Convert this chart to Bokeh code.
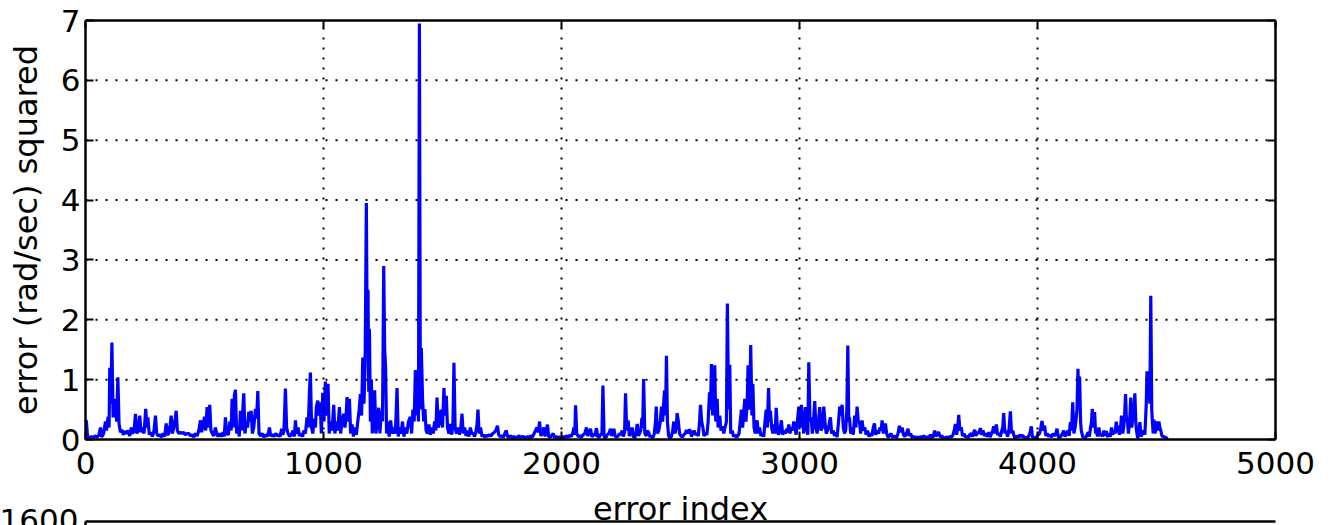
from bokeh.plotting import figure
from bokeh.models import FixedTicker, LinearAxis, Range1d, Label
from bokeh.embed import file_html
from bokeh.resources import INLINE

# (error index, error squared), in segments
seg_0_840 = [(0,0.32),(4,0.3),(9,0.02),(16,0.03),(24,0.05),(32,0.03),(40,0.06),(48,0.04),(56,0.07),(63,0.2),(68,0.04),(76,0.1),(84,0.3),(88,0.15),(95,0.38),(99,0.2),(102,1.2),(106,0.6),(111,1.62),(116,0.37),(121,0.55),(126,0.68),(131,0.3),(136,1.04),(141,0.26),(147,0.12),(153,0.16),(159,0.08),(165,0.14),(172,0.1),(179,0.15),(186,0.06),(192,0.2),(198,0.1),(204,0.15),(210,0.43),(215,0.1),(221,0.15),(228,0.4),(233,0.12),(239,0.2),(246,0.1),(253,0.51),(258,0.2),(262,0.37),(268,0.08),(274,0.12),(281,0.05),(288,0.15),(294,0.4),(299,0.1),(305,0.06),(312,0.08),(319,0.04),(326,0.1),(333,0.05),(339,0.27),(344,0.08),(350,0.1),(356,0.25),(360,0.4),(365,0.1),(371,0.2),(377,0.35),(381,0.48),(386,0.15),(392,0.1),(399,0.12),(406,0.1),(413,0.12),(420,0.08),(427,0.1),(434,0.1),(441,0.06),(448,0.08),(455,0.04),(462,0.1),(469,0.06),(476,0.15),(483,0.32),(488,0.12),(494,0.25),(500,0.38),(505,0.15),(511,0.54),(516,0.2),(522,0.58),(527,0.15),(533,0.1),(539,0.06),(546,0.2),(551,0.1),(557,0.05),(564,0.1),(571,0.05),(578,0.12),(583,0.05),(588,0.37),(593,0.1),(600,0.08),(607,0.3),(612,0.15),(616,0.68),(621,0.2),(626,0.75),(630,0.83),(635,0.1),(641,0.2),(646,0.05),(651,0.48),(656,0.15),(661,0.5),(665,0.77),(670,0.1),(676,0.3),(681,0.2),(686,0.46),(691,0.3),(696,0.48),(701,0.1),(707,0.2),(714,0.51),(719,0.35),(724,0.81),(729,0.1),(735,0.06),(742,0.1),(749,0.04),(756,0.08),(763,0.05),(769,0.12),(773,0.2),(778,0.06),(785,0.08),(792,0.05),(799,0.1),(806,0.06),(813,0.08),(818,0.05),(824,0.18),(829,0.08),(834,0.15)]

seg_840_1680 = [(840,0.85),(845,0.2),(851,0.1),(858,0.05),(865,0.08),(872,0.15),(878,0.05),(882,0.32),(887,0.1),(893,0.2),(899,0.06),(905,0.1),(912,0.05),(918,0.15),(924,0.1),(931,0.37),(936,0.2),(941,0.8),(945,1.12),(950,0.2),(955,0.1),(961,0.35),(966,0.2),(970,0.54),(976,0.65),(981,0.4),(986,0.62),(991,0.1),(997,0.78),(1002,0.3),(1008,0.97),(1013,0.4),(1019,0.93),(1024,0.1),(1030,0.3),(1036,0.15),(1043,0.58),(1048,0.1),(1054,0.3),(1060,0.15),(1067,0.54),(1072,0.1),(1078,0.3),(1085,0.43),(1090,0.2),(1095,0.4),(1099,0.71),(1104,0.3),(1109,0.68),(1114,0.1),(1120,0.25),(1126,0.05),(1132,0.2),(1138,0.08),(1144,0.3),(1150,0.5),(1155,0.76),(1160,0.4),(1165,1.37),(1170,0.6),(1175,1.3),(1180,3.95),(1184,1.5),(1187,2.5),(1190,0.8),(1193,1.85),(1197,0.3),(1201,1.0),(1205,0.1),(1210,0.4),(1215,0.82),(1220,0.1),(1226,0.3),(1232,0.53),(1237,0.1),(1243,0.48),(1248,0.3),(1253,2.9),(1257,1.5),(1261,1.2),(1265,0.1),(1270,0.3),(1276,0.05),(1282,0.32),(1288,0.1),(1294,0.2),(1300,0.1),(1304,0.3),(1309,0.86),(1314,0.05),(1320,0.2),(1326,0.1),(1332,0.3),(1338,0.05),(1344,0.2),(1350,0.1),(1357,0.3),(1365,0.38),(1370,0.1),(1376,0.5),(1381,0.3),(1386,1.16),(1391,0.4),(1395,0.9),(1399,0.3),(1403,6.95),(1407,0.5),(1411,1.53),(1416,0.7),(1421,0.3),(1426,0.51),(1431,0.15),(1437,0.1),(1443,0.25),(1449,0.08),(1455,0.2),(1461,0.1),(1467,0.3),(1472,0.15),(1477,0.7),(1482,0.2),(1488,0.3),(1494,0.5),(1500,0.2),(1506,0.86),(1511,0.4),(1516,0.73),(1521,0.2),(1527,0.1),(1533,0.26),(1539,0.08),(1544,0.3),(1548,1.28),(1553,0.2),(1559,0.1),(1565,0.2),(1571,0.08),(1577,0.2),(1582,0.43),(1587,0.1),(1593,0.2),(1599,0.06),(1605,0.15),(1611,0.05),(1617,0.2),(1623,0.1),(1629,0.1),(1635,0.05),(1641,0.15),(1645,0.25),(1649,0.5),(1654,0.1),(1660,0.2),(1666,0.05),(1672,0.08),(1678,0.04)]

seg_1680_2520 = [(1684,0.07),(1690,0.05),(1697,0.08),(1704,0.06),(1711,0.1),(1718,0.12),(1724,0.15),(1731,0.23),(1736,0.08),(1742,0.05),(1749,0.06),(1756,0.04),(1762,0.1),(1768,0.15),(1773,0.05),(1780,0.04),(1787,0.06),(1794,0.03),(1801,0.05),(1808,0.03),(1815,0.04),(1822,0.06),(1829,0.03),(1836,0.05),(1843,0.04),(1850,0.03),(1857,0.05),(1864,0.03),(1871,0.06),(1878,0.04),(1885,0.1),(1891,0.15),(1897,0.2),(1903,0.12),(1908,0.3),(1913,0.06),(1919,0.1),(1926,0.2),(1931,0.05),(1936,0.15),(1941,0.25),(1946,0.05),(1952,0.04),(1958,0.06),(1965,0.1),(1971,0.03),(1978,0.05),(1985,0.03),(1992,0.04),(1999,0.03),(2006,0.05),(2013,0.03),(2020,0.06),(2027,0.04),(2034,0.07),(2041,0.05),(2047,0.1),(2052,0.2),(2056,0.08),(2059,0.57),(2064,0.1),(2070,0.05),(2077,0.06),(2084,0.04),(2091,0.08),(2098,0.1),(2105,0.2),(2110,0.06),(2116,0.1),(2122,0.18),(2128,0.04),(2134,0.1),(2140,0.06),(2147,0.19),(2152,0.05),(2158,0.04),(2164,0.08),(2170,0.1),(2174,0.9),(2179,0.05),(2186,0.03),(2193,0.08),(2199,0.1),(2206,0.18),(2211,0.06),(2216,0.1),(2220,0.18),(2226,0.05),(2232,0.04),(2238,0.06),(2244,0.1),(2250,0.08),(2255,0.15),(2260,0.05),(2265,0.12),(2269,0.77),(2274,0.15),(2280,0.32),(2285,0.06),(2291,0.1),(2297,0.2),(2302,0.05),(2308,0.03),(2313,0.1),(2318,0.26),(2323,0.06),(2328,0.1),(2333,0.15),(2338,0.36),(2341,0.2),(2345,1.01),(2350,0.1),(2356,0.06),(2361,0.15),(2366,0.12),(2372,0.04),(2378,0.06),(2384,0.03),(2390,0.1),(2395,0.3),(2398,0.55),(2403,0.1),(2409,0.15),(2415,0.3),(2420,0.55),(2425,0.3),(2429,0.6),(2433,0.82),(2437,0.4),(2441,1.4),(2445,0.3),(2450,0.06),(2456,0.03),(2462,0.05),(2467,0.15),(2472,0.3),(2477,0.1),(2482,0.2),(2486,0.44),(2491,0.3),(2496,0.1),(2502,0.06),(2508,0.04),(2514,0.08),(2520,0.1)]

seg_2520_3360 = [(2525,0.16),(2530,0.1),(2535,0.15),(2540,0.16),(2546,0.05),(2552,0.1),(2557,0.15),(2563,0.08),(2569,0.1),(2575,0.06),(2580,0.3),(2584,0.58),(2589,0.3),(2594,0.2),(2599,0.06),(2605,0.1),(2611,0.08),(2616,0.3),(2622,0.79),(2626,0.5),(2630,1.26),(2635,0.4),(2639,0.9),(2644,1.24),(2648,0.3),(2654,0.68),(2658,0.2),(2665,0.4),(2670,0.15),(2676,0.22),(2682,0.1),(2687,0.2),(2693,0.3),(2697,2.27),(2702,0.5),(2707,1.25),(2711,0.1),(2717,0.15),(2723,0.05),(2729,0.08),(2735,0.04),(2741,0.06),(2746,0.1),(2751,0.3),(2756,0.5),(2761,0.2),(2766,0.45),(2770,0.68),(2775,0.3),(2780,0.6),(2784,1.24),(2788,0.5),(2792,0.8),(2795,1.58),(2800,0.4),(2804,0.93),(2809,0.2),(2814,0.1),(2818,0.25),(2822,0.32),(2827,0.1),(2832,0.2),(2838,0.06),(2844,0.1),(2850,0.05),(2855,0.3),(2860,0.5),(2865,0.2),(2870,0.86),(2874,0.3),(2878,0.48),(2883,0.2),(2888,0.1),(2893,0.25),(2898,0.1),(2902,0.53),(2907,0.2),(2912,0.08),(2918,0.15),(2924,0.32),(2929,0.08),(2935,0.15),(2941,0.1),(2947,0.18),(2951,0.12),(2955,0.25),(2960,0.1),(2965,0.2),(2970,0.15),(2976,0.3),(2981,0.2),(2986,0.08),(2991,0.3),(2997,0.55),(3002,0.2),(3008,0.58),(3013,0.3),(3018,0.1),(3025,0.54),(3030,0.2),(3035,0.08),(3039,1.29),(3044,0.3),(3049,0.37),(3054,0.1),(3059,0.3),(3064,0.64),(3069,0.2),(3074,0.1),(3080,0.3),(3085,0.54),(3090,0.15),(3096,0.2),(3102,0.55),(3107,0.3),(3112,0.1),(3118,0.15),(3124,0.25),(3130,0.37),(3135,0.1),(3141,0.15),(3147,0.06),(3153,0.12),(3158,0.04),(3164,0.3),(3169,0.55),(3174,0.4),(3179,0.58),(3184,0.2),(3189,0.1),(3194,0.15),(3199,0.5),(3203,1.57),(3207,0.3),(3210,0.37),(3215,0.1),(3221,0.2),(3226,0.08),(3232,0.4),(3237,0.2),(3242,0.55),(3247,0.3),(3252,0.29),(3257,0.1),(3263,0.32),(3268,0.15),(3274,0.2),(3280,0.08),(3286,0.15),(3292,0.05),(3298,0.1),(3304,0.06),(3310,0.2),(3315,0.27),(3320,0.08),(3326,0.15),(3332,0.1),(3338,0.2),(3343,0.15),(3347,0.32),(3352,0.1),(3357,0.2)]

seg_3360_4200 = [(3361,0.27),(3366,0.1),(3372,0.04),(3378,0.06),(3384,0.1),(3390,0.05),(3396,0.04),(3402,0.06),(3408,0.03),(3414,0.1),(3420,0.23),(3425,0.12),(3431,0.2),(3437,0.08),(3443,0.05),(3449,0.1),(3456,0.18),(3461,0.06),(3467,0.1),(3473,0.03),(3480,0.05),(3487,0.03),(3494,0.04),(3501,0.02),(3508,0.05),(3515,0.03),(3522,0.06),(3529,0.03),(3536,0.04),(3543,0.03),(3550,0.08),(3556,0.03),(3562,0.05),(3568,0.15),(3573,0.05),(3579,0.1),(3585,0.12),(3591,0.04),(3597,0.06),(3604,0.03),(3611,0.02),(3618,0.04),(3625,0.03),(3632,0.05),(3639,0.04),(3645,0.08),(3650,0.15),(3655,0.26),(3660,0.08),(3665,0.2),(3669,0.41),(3674,0.15),(3680,0.2),(3685,0.06),(3691,0.1),(3697,0.04),(3703,0.06),(3709,0.03),(3715,0.08),(3721,0.1),(3727,0.05),(3732,0.12),(3736,0.16),(3741,0.06),(3747,0.12),(3753,0.1),(3760,0.19),(3765,0.08),(3771,0.15),(3777,0.06),(3783,0.1),(3789,0.05),(3795,0.12),(3801,0.04),(3807,0.1),(3812,0.15),(3816,0.22),(3821,0.1),(3827,0.25),(3832,0.08),(3838,0.1),(3844,0.05),(3850,0.15),(3854,0.2),(3858,0.44),(3863,0.1),(3868,0.15),(3874,0.05),(3880,0.15),(3886,0.47),(3891,0.1),(3896,0.15),(3902,0.05),(3908,0.03),(3914,0.06),(3920,0.04),(3926,0.08),(3932,0.05),(3938,0.07),(3944,0.03),(3950,0.04),(3956,0.02),(3962,0.05),(3968,0.1),(3974,0.22),(3979,0.03),(3985,0.04),(3991,0.02),(3997,0.05),(4003,0.08),(4009,0.1),(4014,0.2),(4019,0.31),(4024,0.15),(4030,0.23),(4035,0.06),(4041,0.1),(4047,0.05),(4053,0.08),(4059,0.04),(4065,0.1),(4071,0.06),(4077,0.1),(4082,0.18),(4087,0.05),(4093,0.03),(4099,0.06),(4105,0.1),(4110,0.15),(4115,0.05),(4121,0.1),(4128,0.15),(4133,0.06),(4138,0.29),(4143,0.15),(4148,0.62),(4153,0.1),(4158,0.2),(4162,0.33),(4166,0.5),(4170,1.18),(4174,0.6),(4177,1.05),(4181,0.3),(4184,0.15),(4190,0.05),(4196,0.03)]

seg_4200_4546 = [(4202,0.03),(4208,0.08),(4213,0.12),(4218,0.05),(4223,0.2),(4227,0.3),(4230,0.51),(4235,0.2),(4240,0.46),(4244,0.1),(4247,0.15),(4252,0.05),(4258,0.2),(4263,0.06),(4268,0.1),(4273,0.05),(4279,0.15),(4284,0.06),(4289,0.14),(4295,0.04),(4300,0.1),(4306,0.05),(4311,0.2),(4316,0.08),(4321,0.15),(4326,0.1),(4331,0.3),(4335,0.12),(4339,0.23),(4344,0.08),(4349,0.2),(4353,0.4),(4358,0.1),(4362,0.2),(4366,0.4),(4370,0.76),(4374,0.3),(4377,0.37),(4382,0.1),(4387,0.3),(4392,0.7),(4396,0.2),(4401,0.37),(4405,0.5),(4409,0.77),(4413,0.3),(4416,0.15),(4421,0.02),(4426,0.1),(4430,0.29),(4435,0.05),(4441,0.1),(4447,0.15),(4451,0.08),(4454,0.32),(4457,0.6),(4460,1.14),(4464,0.9),(4468,1.0),(4472,0.6),(4476,2.4),(4480,0.5),(4482,0.35),(4486,0.1),(4489,0.33),(4494,0.1),(4498,0.2),(4503,0.3),(4507,0.15),(4510,0.3),(4514,0.2),(4518,0.15),(4523,0.06),(4527,0.05),(4534,0.04),(4541,0.03),(4546,0.0)]

x_ticks = [0, 1000, 2000, 3000, 4000, 5000]
y_ticks = [0, 1, 2, 3, 4, 5, 6, 7]
x_label = "error index"
y_label = "error (rad/sec) squared"
lower_panel_top_label = "1600"      # top tick label of the (cut off) panel below
lower_panel_top_y = -1.37           # where that panel's top edge sits in this panel's units

segments = [seg_0_840, seg_840_1680, seg_1680_2520, seg_2520_3360, seg_3360_4200, seg_4200_4546]
xs = [pt[0] for seg in segments for pt in seg]
ys = [pt[1] for seg in segments for pt in seg]

FONT = "DejaVu Sans"
TICK_FS = "31px"
LABEL_FS = "32px"

W, H = 1331, 525
# axes box in page pixels: left 85, right 1275, top 20, bottom 439
px_x = 5000 / 1190.0
px_y = 7 / 419.0
x_range = Range1d(-85 * px_x, 5000 + (W - 1275) * px_x)
y_range = Range1d(-(H - 439) * px_y, 7 + 20 * px_y)

p = figure(width=W, height=H, output_backend="svg", toolbar_location=None,
           x_range=x_range, y_range=y_range, min_border=0)
p.title.visible = False
p.outline_line_color = None
p.background_fill_color = "white"
p.border_fill_color = "white"
p.xgrid.visible = False
p.ygrid.visible = False

p.line(xs, ys, line_color="#0000ff", line_width=3.2)

# dotted grid inside the axes box, drawn over the data as in the reference
gx = x_ticks[1:-1]
p.segment(x0=gx, y0=[y_ticks[0]] * len(gx), x1=gx, y1=[y_ticks[-1]] * len(gx),
          line_color="black", line_width=2, line_dash="2 8")
gy = y_ticks[1:-1]
p.segment(x0=[x_ticks[0]] * len(gy), y0=gy, x1=[x_ticks[-1]] * len(gy), y1=gy,
          line_color="black", line_width=2, line_dash="2 8")


def style(ax, ticks=None, show_labels=True):
    ax.axis_line_color = "black"
    ax.axis_line_width = 2.5
    ax.major_tick_in = 8
    ax.major_tick_out = 0
    ax.major_tick_line_color = "black"
    ax.major_tick_line_width = 2
    ax.minor_tick_line_color = None
    ax.major_label_text_font = FONT
    ax.major_label_text_color = "black"
    ax.major_label_text_font_size = TICK_FS
    if not show_labels and ticks:
        ax.major_label_overrides = {t: "" for t in ticks}
        ax.major_label_standoff = 0
    ax.axis_label_text_font = FONT
    ax.axis_label_text_font_size = LABEL_FS
    ax.axis_label_text_font_style = "normal"
    ax.axis_label_text_color = "black"


xa = p.xaxis[0]
style(xa)
xa.ticker = FixedTicker(ticks=x_ticks)
xa.fixed_location = 0
xa.bounds = (x_ticks[0], x_ticks[-1])
xa.major_label_standoff = 12
xa.axis_label = x_label
xa.axis_label_standoff = 13

ya = p.yaxis[0]
style(ya)
ya.ticker = FixedTicker(ticks=y_ticks)
ya.fixed_location = 0
ya.bounds = (y_ticks[0], y_ticks[-1])
ya.major_label_standoff = 5
ya.axis_label = y_label
ya.axis_label_standoff = 13

top_ax = LinearAxis(ticker=FixedTicker(ticks=x_ticks), fixed_location=y_ticks[-1],
                    bounds=(x_ticks[0], x_ticks[-1]))
style(top_ax, x_ticks, False)
p.add_layout(top_ax, "above")

right_ax = LinearAxis(ticker=FixedTicker(ticks=y_ticks), fixed_location=x_ticks[-1],
                      bounds=(y_ticks[0], y_ticks[-1]))
style(right_ax, y_ticks, False)
p.add_layout(right_ax, "right")

# top edge and left edge of the panel below (cut off by the page)
lower_top = LinearAxis(ticker=FixedTicker(ticks=[]), fixed_location=lower_panel_top_y,
                       bounds=(x_ticks[0], x_ticks[-1]))
style(lower_top)
p.add_layout(lower_top, "below")

lower_left = LinearAxis(ticker=FixedTicker(ticks=[]), fixed_location=0,
                        bounds=(y_range.start, lower_panel_top_y))
style(lower_left)
p.add_layout(lower_left, "left")

# its top tick label, partly below the page edge as in the reference
p.add_layout(Label(x=-7 * px_x, y=lower_panel_top_y + 2 * px_y, text=lower_panel_top_label,
                   text_align="right", text_baseline="middle",
                   text_font=FONT, text_font_size=TICK_FS, text_color="black"))

open("out.html", "w").write(file_html(p, INLINE))
